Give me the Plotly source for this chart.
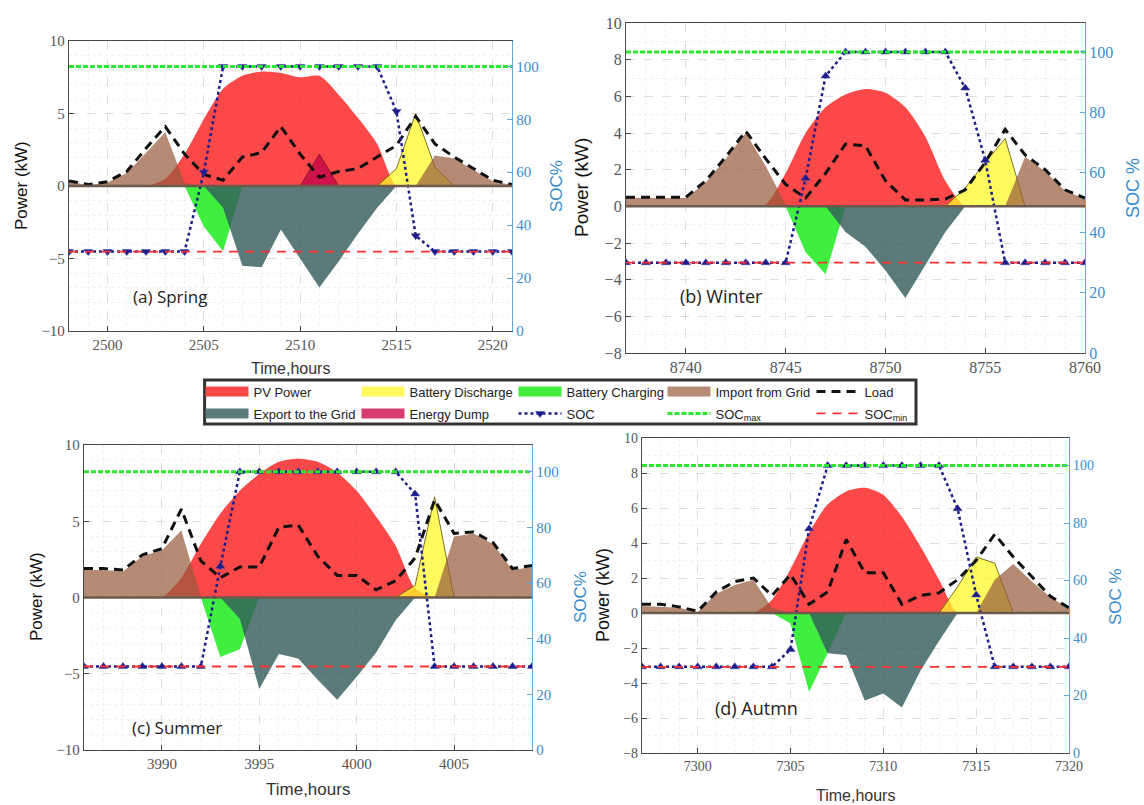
import plotly.graph_objects as go

W, H = 1144, 805

# ---------------- data (kW, hourly) ----------------
hours_spring = list(range(2498, 2522))
pv_spring        = [0, 0, 0, 0, 0, 0.5, 2.2, 4.6, 6.7, 7.6, 7.9, 7.8, 7.5, 7.6, 6.3, 4.7, 2.9, 0, 0, 0, 0, 0, 0, 0]
discharge_spring = [0, 0, 0, 0, 0, 0, 0, 0, 0, 0, 0, 0, 0, 0, 0, 0, 0, 1.2, 5.0, 1.3, 0, 0, 0, 0]
import_spring    = [0.3, 0.05, 0.25, 0.9, 2.3, 3.7, 0.2, 0, 0, 0, 0, 0, 0, 0, 0, 0, 0, 0, 0, 2.1, 1.9, 1.1, 0.35, 0.05]
dump_spring      = [0, 0, 0, 0, 0, 0, 0, 0, 0, 0, 0, 0, 0, 2.2, 0, 0, 0, 0, 0, 0, 0, 0, 0, 0]
charge_spring    = [0, 0, 0, 0, 0, 0, 0, -2.8, -4.5, 0, 0, 0, 0, 0, 0, 0, 0, 0, 0, 0, 0, 0, 0, 0]
export_spring    = [0, 0, 0, 0, 0, 0, 0, 0, -1.5, -5.5, -5.6, -3.0, -5.0, -7.0, -5.2, -3.3, -1.5, 0, 0, 0, 0, 0, 0, 0]
load_spring      = [0.35, 0.1, 0.3, 1.0, 2.6, 4.1, 2.2, 0.8, 0.4, 2.0, 2.3, 4.1, 2.2, 0.6, 1.0, 1.2, 2.0, 2.8, 4.8, 2.9, 2.0, 1.2, 0.4, 0.1]
soc_spring       = [30, 30, 30, 30, 30, 30, 30, 60, 100, 100, 100, 100, 100, 100, 100, 100, 100, 83, 36, 30, 30, 30, 30, 30]

hours_winter = list(range(8737, 8761))
pv_winter        = [0, 0, 0, 0, 0, 0, 0, 0.1, 1.8, 4.0, 5.4, 6.1, 6.4, 6.2, 5.4, 3.8, 1.4, 0, 0, 0, 0, 0, 0, 0]
discharge_winter = [0, 0, 0, 0, 0, 0, 0, 0, 0, 0, 0, 0, 0, 0, 0, 0, 0, 1.0, 2.4, 3.7, 0, 0, 0, 0]
import_winter    = [0.45, 0.45, 0.45, 0.45, 1.3, 2.6, 4.0, 2.2, 0.1, 0, 0, 0, 0, 0, 0, 0, 0, 0, 0, 0, 2.7, 1.9, 0.85, 0.4]
dump_winter      = [0, 0, 0, 0, 0, 0, 0, 0, 0, 0, 0, 0, 0, 0, 0, 0, 0, 0, 0, 0, 0, 0, 0, 0]
charge_winter    = [0, 0, 0, 0, 0, 0, 0, 0, 0, -2.5, -3.7, 0, 0, 0, 0, 0, 0, 0, 0, 0, 0, 0, 0, 0]
export_winter    = [0, 0, 0, 0, 0, 0, 0, 0, 0, 0, 0, -1.4, -2.2, -3.5, -5.0, -3.2, -1.4, 0, 0, 0, 0, 0, 0, 0]
load_winter      = [0.5, 0.5, 0.5, 0.5, 1.4, 2.7, 4.1, 2.6, 1.2, 0.45, 1.8, 3.4, 3.3, 1.4, 0.35, 0.35, 0.4, 0.9, 2.4, 4.2, 2.8, 2.0, 0.9, 0.45]
soc_winter       = [30, 30, 30, 30, 30, 30, 30, 30, 30, 58, 92, 100, 100, 100, 100, 100, 100, 88, 64, 30, 30, 30, 30, 30]

hours_summer = list(range(3986, 4010))
pv_summer        = [0, 0, 0, 0, 0, 1.3, 3.5, 5.5, 7.0, 8.1, 8.9, 9.1, 8.9, 8.2, 7.0, 5.3, 3.4, 0.6, 0, 0, 0, 0, 0, 0]
discharge_summer = [0, 0, 0, 0, 0, 0, 0, 0, 0, 0, 0, 0, 0, 0, 0, 0, 0, 0.8, 6.6, 0, 0, 0, 0, 0]
import_summer    = [1.8, 1.8, 1.7, 2.7, 3.1, 4.4, 0, 0, 0, 0, 0, 0, 0, 0, 0, 0, 0, 0, 0, 4.0, 4.2, 3.5, 1.8, 2.0]
dump_summer      = [0, 0, 0, 0, 0, 0, 0, 0, 0, 0, 0, 0, 0, 0, 0, 0, 0, 0, 0, 0, 0, 0, 0, 0]
charge_summer    = [0, 0, 0, 0, 0, 0, 0, -3.9, -3.4, 0, 0, 0, 0, 0, 0, 0, 0, 0, 0, 0, 0, 0, 0, 0]
export_summer    = [0, 0, 0, 0, 0, 0, 0, 0, -1.4, -6.0, -3.7, -4.0, -5.4, -6.7, -5.2, -3.6, -1.5, 0, 0, 0, 0, 0, 0, 0]
load_summer      = [1.9, 1.9, 1.8, 2.8, 3.2, 5.8, 2.4, 1.3, 2.0, 2.0, 4.6, 4.75, 2.7, 1.45, 1.45, 0.5, 1.1, 2.6, 6.4, 4.2, 4.3, 3.6, 1.9, 2.1]
soc_summer       = [30, 30, 30, 30, 30, 30, 30, 66, 100, 100, 100, 100, 100, 100, 100, 100, 100, 92, 30, 30, 30, 30, 30, 30]

hours_autumn = list(range(7297, 7321))
pv_autumn        = [0, 0, 0, 0, 0, 0, 0, 0.75, 2.5, 4.6, 6.2, 6.95, 7.15, 6.75, 5.5, 3.8, 1.9, 0, 0, 0, 0, 0, 0, 0]
discharge_autumn = [0, 0, 0, 0, 0, 0, 0, 0, 0, 0, 0, 0, 0, 0, 0, 0, 0, 1.5, 3.2, 2.85, 0, 0, 0, 0]
import_autumn    = [0.4, 0.35, 0.3, 0.05, 1.1, 1.6, 1.9, 0.3, 0, 0, 0, 0, 0, 0, 0, 0, 0, 0, 0, 1.9, 2.8, 1.8, 0.9, 0.25]
dump_autumn      = [0, 0, 0, 0, 0, 0, 0, 0, 0, 0, 0, 0, 0, 0, 0, 0, 0, 0, 0, 0, 0, 0, 0, 0]
charge_autumn    = [0, 0, 0, 0, 0, 0, 0, 0, -0.6, -4.5, -2.3, 0, 0, 0, 0, 0, 0, 0, 0, 0, 0, 0, 0, 0]
export_autumn    = [0, 0, 0, 0, 0, 0, 0, 0, 0, 0, -2.3, -2.4, -5.0, -4.6, -5.4, -3.3, -1.6, 0, 0, 0, 0, 0, 0, 0]
load_autumn      = [0.5, 0.5, 0.35, 0.1, 1.2, 1.8, 2.0, 1.0, 2.2, 0.5, 1.2, 4.2, 2.3, 2.3, 0.5, 1.0, 1.15, 1.9, 3.0, 4.5, 3.2, 2.1, 0.95, 0.3]
soc_autumn       = [30, 30, 30, 30, 30, 30, 30, 30, 36, 78, 100, 100, 100, 100, 100, 100, 100, 85, 55, 30, 30, 30, 30, 30]

SOC_MAX = 100
SOC_MIN = 30

panel_labels = ["(a) Spring", "(b) Winter", "(c) Summer", "(d) Autmn"]

# ---------------- styles ----------------
C_PV = 'rgba(250,40,40,0.85)'
C_DIS = 'rgba(255,250,40,0.75)'
C_IMP = 'rgba(150,90,60,0.7)'
C_DUMP = 'rgba(200,10,70,0.85)'
C_CHG = 'rgba(30,235,30,0.85)'
C_EXP = 'rgba(50,90,90,0.8)'
C_LOAD = '#111111'
C_SOC = '#1c1c8a'
C_MAX = '#2ee62e'
C_MIN = '#ff3030'
C_BLUE_AX = '#62a8dc'
C_BLUE_TXT = '#3b8ccc'
SERIF = 'Liberation Serif, DejaVu Serif, serif'
SANS = 'Liberation Sans, Arial, sans-serif'


def fx(px):
    return px / W


def fy(py):
    return 1 - py / H


panels = [
    dict(h=hours_spring, pv=pv_spring, dis=discharge_spring, imp=import_spring, dump=dump_spring,
         chg=charge_spring, exp=export_spring, load=load_spring, soc=soc_spring,
         box=(69, 41, 512, 331), yr=[-10, 10], ydt=5, sym='triangle-down', tf=15,
         pw=(21, 186, 17), sc=(556, 186, 17, 'SOC%'), tm=(290, 369, 16), lab=(170, 297, 17)),
    dict(h=hours_winter, pv=pv_winter, dis=discharge_winter, imp=import_winter, dump=dump_winter,
         chg=charge_winter, exp=export_winter, load=load_winter, soc=soc_winter,
         box=(626, 23, 1085, 353), yr=[-8, 10], ydt=2, sym='triangle-up', tf=16,
         pw=(582, 188, 19), sc=(1133, 188, 18, 'SOC %'), tm=None, lab=(721, 296, 18)),
    dict(h=hours_summer, pv=pv_summer, dis=discharge_summer, imp=import_summer, dump=dump_summer,
         chg=charge_summer, exp=export_summer, load=load_summer, soc=soc_summer,
         box=(84, 445, 532, 750), yr=[-10, 10], ydt=5, sym='triangle-up', tf=15,
         pw=(36, 597, 17), sc=(580, 597, 17, 'SOC%'), tm=(308, 789, 17), lab=(177, 727, 17)),
    dict(h=hours_autumn, pv=pv_autumn, dis=discharge_autumn, imp=import_autumn, dump=dump_autumn,
         chg=charge_autumn, exp=export_autumn, load=load_autumn, soc=soc_autumn,
         box=(642, 438, 1069, 753), yr=[-8, 10], ydt=2, sym='triangle-up', tf=14,
         pw=(603, 595, 18), sc=(1115, 597, 17, 'SOC %'), tm=(855, 795, 16), lab=(756, 708, 18)),
]

fig = go.Figure()
layout = dict(
    width=W, height=H, margin=dict(l=0, r=0, t=0, b=0), autosize=False,
    template='none', paper_bgcolor='white', plot_bgcolor='white', showlegend=True,
)
shapes = []
annotations = []

for i, p in enumerate(panels, start=1):
    xa = 'x' if i == 1 else f'x{i}'
    yl_n = 2 * i - 1
    yr_n = 2 * i
    yl = 'y' if yl_n == 1 else f'y{yl_n}'
    yr = f'y{yr_n}'
    hrs = p['h']

    def area(vals, color, edge=None, shape='linear'):
        fig.add_trace(go.Scatter(
            x=hrs, y=vals, xaxis=xa, yaxis=yl, mode='lines', fill='tozeroy',
            fillcolor=color,
            line=dict(width=1 if edge else 0, color=edge or color, shape=shape,
                      smoothing=0.7 if shape == 'spline' else None),
            showlegend=False, hoverinfo='skip'))

    area(p['pv'], C_PV, shape='spline')
    area(p['dis'], C_DIS, edge='rgba(110,95,20,0.9)')
    area(p['imp'], C_IMP)
    if any(v != 0 for v in p['dump']):
        area(p['dump'], C_DUMP, edge='rgba(120,20,40,0.8)')
    area(p['chg'], C_CHG)
    area(p['exp'], C_EXP)

    fig.add_trace(go.Scatter(
        x=hrs, y=p['load'], xaxis=xa, yaxis=yl, mode='lines', name='Load',
        line=dict(color=C_LOAD, width=3, dash='9px,6px'),
        legend='legend', legendrank=5, legendwidth=60, showlegend=(i == 1), hoverinfo='skip'))

    fig.add_trace(go.Scatter(
        x=hrs, y=p['soc'], xaxis=xa, yaxis=yr, mode='lines+markers', name='SOC',
        line=dict(color=C_SOC, width=2.5, dash='dot'),
        marker=dict(symbol=p['sym'], size=8, color=C_SOC, line=dict(width=0.5, color='#4040b0')),
        legend='legend2', legendrank=3, legendwidth=91, showlegend=(i == 1), hoverinfo='skip'))
    fig.add_trace(go.Scatter(
        x=[hrs[0], hrs[-1]], y=[SOC_MAX, SOC_MAX], xaxis=xa, yaxis=yr, mode='lines',
        name='SOC<sub>max</sub>', line=dict(color=C_MAX, width=3, dash='5px,2px'),
        legend='legend2', legendrank=4, legendwidth=91, showlegend=(i == 1), hoverinfo='skip'))
    fig.add_trace(go.Scatter(
        x=[hrs[0], hrs[-1]], y=[SOC_MIN, SOC_MIN], xaxis=xa, yaxis=yr, mode='lines',
        name='SOC<sub>min</sub>', line=dict(color=C_MIN, width=1.8, dash='9px,7px'),
        legend='legend2', legendrank=5, legendwidth=60, showlegend=(i == 1), hoverinfo='skip'))

    x0, y0, x1, y1 = p['box']
    grid = dict(showgrid=True, gridcolor='#dedede', griddash='dash', gridwidth=1)
    layout['xaxis' if i == 1 else f'xaxis{i}'] = dict(
        domain=[fx(x0), fx(x1)], anchor=yl, range=[hrs[0], hrs[-1]], dtick=5,
        ticks='inside', ticklen=5, tickcolor='#444', showline=True, linecolor='#4a4a4a',
        linewidth=1.3, mirror=True, zeroline=False, automargin=False,
        tickfont=dict(family=SERIF, size=p['tf'], color='#555'),
        minor=dict(dtick=1, showgrid=True, gridcolor='#f0f0f0', griddash='dot'), **grid)
    layout['yaxis' if yl_n == 1 else f'yaxis{yl_n}'] = dict(
        domain=[fy(y1), fy(y0)], anchor=xa, range=p['yr'], dtick=p['ydt'],
        ticks='inside', ticklen=5, tickcolor='#444', showline=True, linecolor='#4a4a4a',
        linewidth=1.3, mirror=False, zeroline=False, automargin=False,
        tickfont=dict(family=SERIF, size=p['tf'], color='#555'),
        minor=dict(dtick=1, showgrid=True, gridcolor='#f0f0f0', griddash='dot'), **grid)
    layout[f'yaxis{yr_n}'] = dict(
        overlaying=yl, side='right', anchor=xa, range=[0, 109.6], dtick=20,
        ticks='inside', ticklen=5, tickcolor=C_BLUE_AX, showline=True, linecolor=C_BLUE_AX,
        linewidth=1.3, showgrid=False, zeroline=False, automargin=False,
        tickfont=dict(family=SERIF, size=p['tf'], color=C_BLUE_TXT))

    # zero baseline
    shapes.append(dict(type='line', xref=f'{xa} domain', yref=yl, x0=0, x1=1, y0=0, y1=0,
                       line=dict(color='#6b5a4e', width=2.5), layer='above'))

    # titles
    px_, py_, fs = p['pw']
    annotations.append(dict(text='Power (kW)', x=fx(px_), y=fy(py_), xref='paper', yref='paper',
                            textangle=-90, showarrow=False, xanchor='center', yanchor='middle',
                            font=dict(family=SANS, size=fs, color='#111')))
    px_, py_, fs, txt = p['sc']
    annotations.append(dict(text=txt, x=fx(px_), y=fy(py_), xref='paper', yref='paper',
                            textangle=-90, showarrow=False, xanchor='center', yanchor='middle',
                            font=dict(family=SANS, size=fs, color=C_BLUE_TXT)))
    if p['tm']:
        px_, py_, fs = p['tm']
        annotations.append(dict(text='Time,hours', x=fx(px_), y=fy(py_), xref='paper', yref='paper',
                                showarrow=False, xanchor='center', yanchor='middle',
                                font=dict(family=SANS, size=fs, color='#333')))
    px_, py_, fs = p['lab']
    annotations.append(dict(text=panel_labels[i - 1], x=fx(px_), y=fy(py_), xref='paper', yref='paper',
                            showarrow=False, xanchor='center', yanchor='middle',
                            font=dict(family='Open Sans, sans-serif', size=fs, color='#222')))

# legend-only swatches for the filled areas
swatches = [
    ('PV Power', 'rgb(250,72,72)', 'legend', 1, 98),
    ('Battery Discharge', 'rgb(255,248,95)', 'legend', 2, 99),
    ('Battery Charging', 'rgb(64,238,64)', 'legend', 3, 91),
    ('Import from Grid', 'rgb(182,140,119)', 'legend', 4, 91),
    ('Export to the Grid', 'rgb(91,123,123)', 'legend2', 1, 98),
    ('Energy Dump', 'rgb(214,60,110)', 'legend2', 2, 99),
]
for name, col, lg, rank, lw in swatches:
    fig.add_trace(go.Scatter(x=[None], y=[None], xaxis='x', yaxis='y', mode='lines', name=name,
                             line=dict(color=col, width=13), legend=lg, legendrank=rank,
                             legendwidth=lw, showlegend=True, hoverinfo='skip'))

leg_common = dict(orientation='h', xanchor='left', yanchor='top', bgcolor='rgba(0,0,0,0)',
                  itemwidth=43, font=dict(family=SANS, size=13, color='#222'),
                  traceorder='normal', itemclick=False, itemdoubleclick=False)
layout['legend'] = dict(x=fx(200.5), y=fy(376.5), **leg_common)
layout['legend2'] = dict(x=fx(200.5), y=fy(398.5), **leg_common)

shapes.append(dict(type='rect', xref='paper', yref='paper', x0=fx(204.6), x1=fx(916),
                   y0=fy(424), y1=fy(380), line=dict(color='#333', width=3),
                   fillcolor='white', layer='above'))

layout['shapes'] = shapes
layout['annotations'] = annotations
fig.update_layout(**layout)

fig.write_html("out.html")
